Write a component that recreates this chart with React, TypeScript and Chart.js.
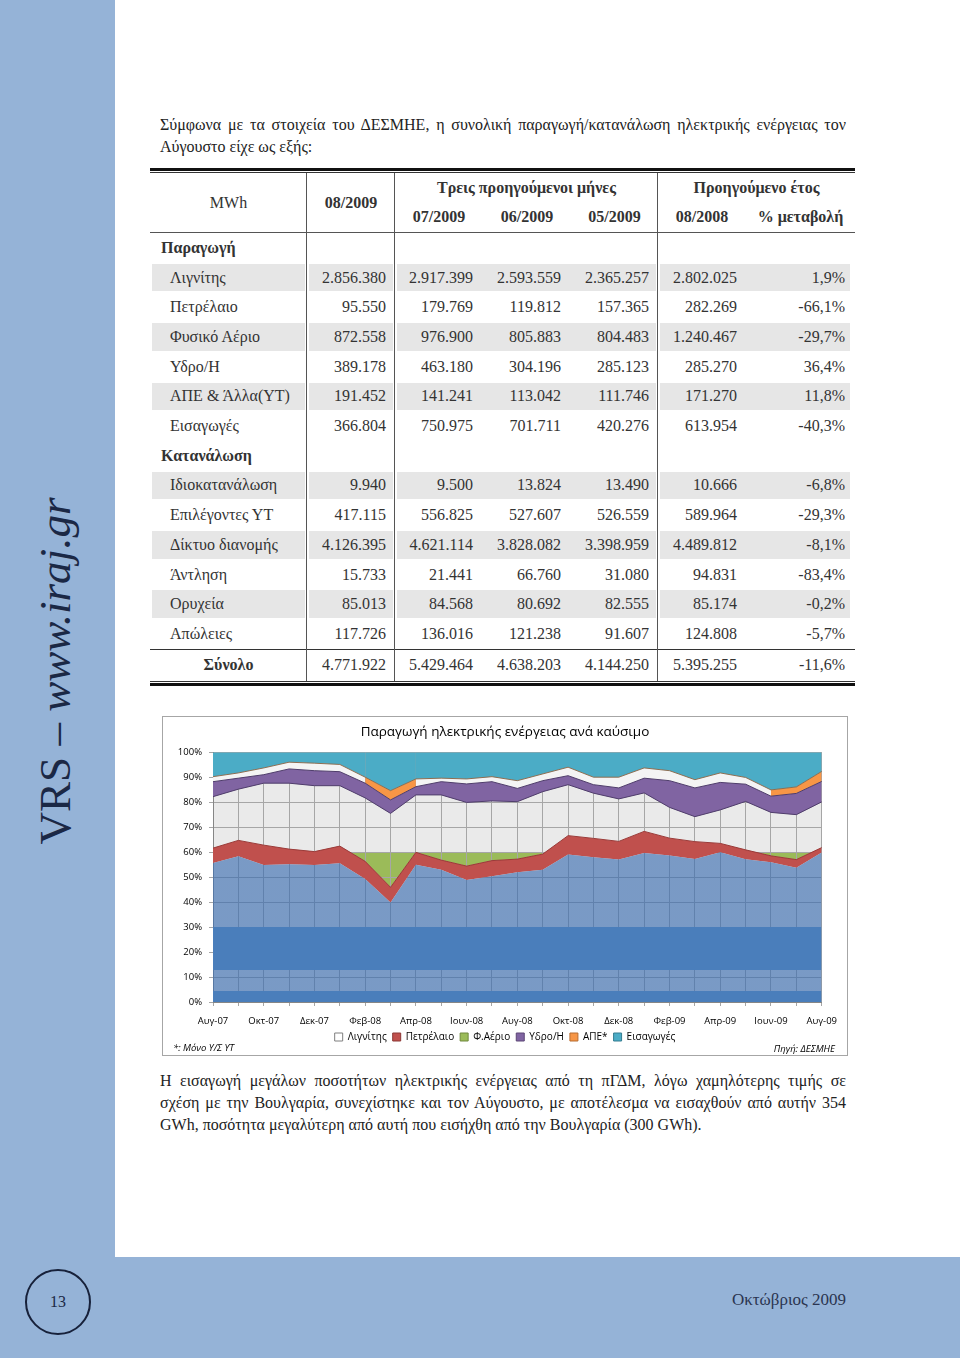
import React, { useEffect, useRef } from 'react';
import { Chart, registerables } from 'chart.js';

Chart.register(...registerables);

// ---------- Chart data (shares of production, %) ----------
const months = ['Αυγ-07', 'Σεπ-07', 'Οκτ-07', 'Νοε-07', 'Δεκ-07', 'Ιαν-08', 'Φεβ-08', 'Μαρ-08', 'Απρ-08', 'Μαϊ-08', 'Ιουν-08', 'Ιουλ-08', 'Αυγ-08', 'Σεπ-08', 'Οκτ-08', 'Νοε-08', 'Δεκ-08', 'Ιαν-09', 'Φεβ-09', 'Μαρ-09', 'Απρ-09', 'Μαϊ-09', 'Ιουν-09', 'Ιουλ-09', 'Αυγ-09'];
const lignite = [55.6, 58.3, 54.8, 55.1, 54.8, 55.5, 49.2, 39.8, 54.9, 52.9, 48.8, 50.3, 51.9, 52.9, 59.0, 57.9, 57.0, 59.6, 58.6, 57.2, 59.9, 57.1, 55.9, 53.7, 59.8];
const oil = [6.0, 6.4, 8.0, 6.1, 5.4, 6.9, 7.1, 6.1, 5.0, 3.9, 5.6, 6.3, 5.3, 6.3, 7.6, 7.6, 7.3, 8.7, 7.0, 7.0, 3.6, 3.8, 2.6, 3.3, 2.0];
const gas = [20.6, 20.5, 24.8, 26.4, 26.4, 24.2, 25.4, 29.6, 23.0, 26.1, 25.5, 23.9, 23.0, 25.0, 20.4, 18.1, 17.0, 15.4, 12.3, 10.0, 13.4, 19.4, 17.4, 18.0, 18.3];
const hydro = [6.0, 4.4, 3.4, 5.7, 6.0, 5.6, 5.9, 5.4, 3.3, 5.3, 7.4, 7.7, 5.3, 4.4, 3.6, 3.4, 4.4, 5.9, 10.7, 11.5, 11.0, 6.9, 6.5, 8.5, 8.2];
const renewables = [2.0, 2.1, 2.7, 2.7, 3.0, 2.9, 2.4, 3.7, 3.1, 1.4, 2.0, 2.0, 3.1, 2.7, 3.4, 3.0, 4.3, 4.1, 4.0, 3.3, 3.8, 2.7, 2.5, 2.6, 4.0];
const imports = [9.8, 8.3, 6.3, 4.0, 4.4, 4.9, 10.0, 15.4, 10.7, 10.4, 10.7, 9.8, 11.4, 8.7, 6.0, 10.0, 10.0, 6.3, 7.4, 11.0, 8.3, 10.1, 15.1, 13.9, 7.7];
const seriesNames = ['Λιγνίτης', 'Πετρέλαιο', 'Φ.Αέριο', 'Υδρο/Η', 'ΑΠΕ*', 'Εισαγωγές'];
const yTicks = [0, 10, 20, 30, 40, 50, 60, 70, 80, 90, 100];

// ---------- Table data ----------
const tableHeadMonths = ['07/2009', '06/2009', '05/2009'];
const prodLabels = ['Λιγνίτης', 'Πετρέλαιο', 'Φυσικό Αέριο', 'Υδρο/Η', 'ΑΠΕ & Άλλα(ΥΤ)', 'Εισαγωγές'];
const prodValues = [
  ['2.856.380', '2.917.399', '2.593.559', '2.365.257', '2.802.025', '1,9%'],
  ['95.550', '179.769', '119.812', '157.365', '282.269', '-66,1%'],
  ['872.558', '976.900', '805.883', '804.483', '1.240.467', '-29,7%'],
  ['389.178', '463.180', '304.196', '285.123', '285.270', '36,4%'],
  ['191.452', '141.241', '113.042', '111.746', '171.270', '11,8%'],
  ['366.804', '750.975', '701.711', '420.276', '613.954', '-40,3%'],
];
const consLabels = ['Ιδιοκατανάλωση', 'Επιλέγοντες ΥΤ', 'Δίκτυο διανομής', 'Άντληση', 'Ορυχεία', 'Απώλειες'];
const consValues = [
  ['9.940', '9.500', '13.824', '13.490', '10.666', '-6,8%'],
  ['417.115', '556.825', '527.607', '526.559', '589.964', '-29,3%'],
  ['4.126.395', '4.621.114', '3.828.082', '3.398.959', '4.489.812', '-8,1%'],
  ['15.733', '21.441', '66.760', '31.080', '94.831', '-83,4%'],
  ['85.013', '84.568', '80.692', '82.555', '85.174', '-0,2%'],
  ['117.726', '136.016', '121.238', '91.607', '124.808', '-5,7%'],
];
const totalValues = ['4.771.922', '5.429.464', '4.638.203', '4.144.250', '5.395.255', '-11,6%'];

// ---------- Styles ----------
const serif = '"Liberation Serif", "Times New Roman", serif';
const sans = '"Open Sans", "Noto Sans", sans-serif';
const pageBlue = '#95B3D7';
const blueDark = '#4A7EBB';
const blueLight = 'rgba(70,115,175,0.72)';
const gasUpper = '#EAEAEA';
const gasLower = '#9BBB59';
const gasSplit = 60;
const orange = '#F79646';
const orangeSegments = [6, 7, 22, 23];
const legendFill = ['#FFFFFF', '#C0504D', '#9BBB59', '#8064A2', '#F79646', '#4BACC6'];
const legendStroke = ['#7F7F7F', '#8C3836', '#71893F', '#5C4776', '#B66D31', '#357D91'];

const colEdges = [150, 307, 395, 483, 571, 658, 746, 855];
const valueEnds = [386, 473, 561, 649, 737, 845];
const textColor = '#333';

const ChartBox: React.FC = () => {
  const ref = useRef<HTMLCanvasElement>(null);
  useEffect(() => {
    const canvas = ref.current;
    if (!canvas) return;
    const bgPlugin = {
      id: 'plotBackground',
      beforeDraw(chart: any) {
        const a = chart.chartArea;
        const y = chart.scales.y;
        if (!a || !y) return;
        const split = y.getPixelForValue(gasSplit);
        const ctx = chart.ctx;
        ctx.save();
        ctx.fillStyle = gasUpper;
        ctx.fillRect(a.left, a.top, a.right - a.left, split - a.top);
        const pts = chart.getDatasetMeta(1).data;
        if (pts && pts.length) {
          ctx.beginPath();
          ctx.rect(a.left, split, a.right - a.left, a.bottom - split);
          ctx.clip();
          ctx.beginPath();
          ctx.moveTo(pts[0].x, split);
          pts.forEach((p: any) => ctx.lineTo(p.x, p.y));
          ctx.lineTo(pts[pts.length - 1].x, split);
          ctx.closePath();
          ctx.fillStyle = gasLower;
          ctx.fill();
        }
        ctx.restore();
      },
    };
    const ligniteFill = (c: any) => {
      const chart = c.chart;
      const y = chart.scales && chart.scales.y;
      if (!chart.chartArea || !y) return blueDark;
      const y0 = y.getPixelForValue(0);
      const y1 = y.getPixelForValue(100);
      const g = chart.ctx.createLinearGradient(0, y0, 0, y1);
      const stops: [number, string][] = [
        [0, blueDark], [0.045, blueDark], [0.045, blueLight], [0.13, blueLight],
        [0.13, blueDark], [0.3, blueDark], [0.3, blueLight], [1, blueLight],
      ];
      stops.forEach(([o, col]) => g.addColorStop(o, col));
      return g;
    };
    const values = [lignite, oil, gas, hydro, renewables, imports];
    const datasets: any[] = [
      { label: seriesNames[0], data: values[0], fill: 'origin', backgroundColor: ligniteFill, borderColor: 'rgba(0,0,0,0)', borderWidth: 0 },
      { label: seriesNames[1], data: values[1], fill: '-1', backgroundColor: '#C0504D', borderColor: '#9A3B39', borderWidth: 1 },
      { label: seriesNames[2], data: values[2], fill: false, backgroundColor: '#9BBB59', borderColor: '#4F3D6B', borderWidth: 1 },
      { label: seriesNames[3], data: values[3], fill: '-1', backgroundColor: '#8064A2', borderColor: '#4F3D6B', borderWidth: 1 },
      {
        label: seriesNames[4], data: values[4], fill: '-1', backgroundColor: '#F4F4F4', borderColor: '#8C6E52', borderWidth: 1,
        segment: { backgroundColor: (s: any) => (orangeSegments.includes(s.p0DataIndex) ? orange : undefined) },
      },
      { label: seriesNames[5], data: values[5], fill: '-1', backgroundColor: '#4BACC6', borderColor: '#4BACC6', borderWidth: 0 },
    ];
    const chart = new Chart(canvas, {
      type: 'line',
      data: { labels: months, datasets },
      plugins: [bgPlugin],
      options: {
        animation: false,
        responsive: false,
        elements: { point: { radius: 0 }, line: { tension: 0 } },
        layout: { padding: { top: 0, right: 0, bottom: 3, left: 0 } },
        scales: {
          x: {
            stacked: true,
            grid: { color: '#A6A6A6', lineWidth: 1, tickLength: 4 },
            border: { color: '#868686' },
            ticks: {
              autoSkip: false, maxRotation: 0, minRotation: 0, padding: 10, color: '#000',
              font: { family: sans, size: 9.5 },
              callback: (_v: any, i: number) => (i % 2 === 0 ? months[i] : ''),
            },
            afterFit: (s: any) => { s.height = 24; },
          },
          y: {
            stacked: true, min: 0, max: 100,
            afterBuildTicks: (s: any) => { s.ticks = yTicks.map((v) => ({ value: v })); },
            grid: { color: '#A6A6A6', lineWidth: 1, tickLength: 4 },
            border: { color: '#868686' },
            ticks: { padding: 7, color: '#000', font: { family: sans, size: 9.5 }, callback: (v: any) => v + '%' },
            afterFit: (s: any) => { s.width = 50; },
          },
          yRightSpace: {
            position: 'right', min: 0, max: 100,
            grid: { display: false, drawTicks: false }, border: { display: false },
            ticks: { display: false },
            afterFit: (s: any) => { s.width = 24; },
          },
        },
        plugins: {
          tooltip: { enabled: false },
          title: {
            display: true, text: 'Παραγωγή ηλεκτρικής ενέργειας ανά καύσιμο', color: '#000',
            font: { family: sans, size: 13.5, weight: 'normal' }, padding: { top: 7, bottom: 12 },
          },
          legend: {
            position: 'bottom',
            labels: {
              boxWidth: 8, boxHeight: 8, padding: 6, color: '#000', font: { family: sans, size: 10 },
              generateLabels: (ch: any) => {
                const items = Chart.defaults.plugins.legend.labels.generateLabels(ch);
                return items.map((it: any, i: number) => ({ ...it, fillStyle: legendFill[i], strokeStyle: legendStroke[i], lineWidth: 1 }));
              },
            },
          },
        },
      } as any,
    });
    return () => chart.destroy();
  }, []);
  return (
    <div style={{ position: 'absolute', left: 162, top: 716, width: 686, height: 340, border: '1px solid #A6A6A6', boxSizing: 'border-box', background: '#fff' }}>
      <canvas ref={ref} width={684} height={338} style={{ display: 'block', width: 684, height: 338 }} />
      <div style={{ position: 'absolute', left: 10, top: 324, fontFamily: sans, fontSize: 9.5, fontStyle: 'italic', color: '#000' }}>*: Μόνο Υ/Σ ΥΤ</div>
      <div style={{ position: 'absolute', right: 12, top: 325, fontFamily: sans, fontSize: 9.5, fontStyle: 'italic', color: '#000' }}>Πηγή: ΔΕΣΜΗΕ</div>
    </div>
  );
};

const Txt: React.FC<{ x: number; y: number; w?: number; align?: 'left' | 'right' | 'center'; bold?: boolean; children: React.ReactNode }> = ({ x, y, w, align = 'left', bold, children }) => {
  const style: React.CSSProperties = {
    position: 'absolute', top: y - 11, height: 22, lineHeight: '22px', fontFamily: serif, fontSize: 16,
    fontWeight: bold ? 'bold' : 'normal', color: textColor, whiteSpace: 'nowrap',
  };
  if (align === 'right') { style.right = 960 - x; }
  else if (align === 'center') { style.left = x - (w || 200) / 2; style.width = w || 200; style.textAlign = 'center'; }
  else { style.left = x; }
  return <div style={style}>{children}</div>;
};

const DataTable: React.FC = () => {
  const rowTop = 233;
  const rowH = 29.7;
  const rows: { label: string; kind: 'section' | 'item'; values?: string[]; shaded?: boolean }[] = [];
  rows.push({ label: 'Παραγωγή', kind: 'section' });
  prodLabels.forEach((l, i) => rows.push({ label: l, kind: 'item', values: prodValues[i], shaded: i % 2 === 0 }));
  rows.push({ label: 'Κατανάλωση', kind: 'section' });
  consLabels.forEach((l, i) => rows.push({ label: l, kind: 'item', values: consValues[i], shaded: i % 2 === 0 }));
  const shadeGroups = [[colEdges[0] + 2, colEdges[1] - 2], [colEdges[1] + 2, colEdges[2] - 2], [colEdges[2] + 2, colEdges[5] - 2], [colEdges[5] + 2, colEdges[7] - 5]];
  const els: React.ReactNode[] = [];
  rows.forEach((r, i) => {
    const top = rowTop + i * rowH;
    const cy = top + rowH / 2;
    if (r.shaded) {
      shadeGroups.forEach(([a, b], k) => els.push(
        <div key={`s${i}-${k}`} style={{ position: 'absolute', left: a, top: top + 1, width: b - a, height: rowH - 2, background: '#E6E6E6' }} />,
      ));
    }
    els.push(<Txt key={`l${i}`} x={r.kind === 'section' ? 161 : 170} y={cy} bold={r.kind === 'section'}>{r.label}</Txt>);
    if (r.values) r.values.forEach((v, k) => els.push(<Txt key={`v${i}-${k}`} x={valueEnds[k]} y={cy} align="right">{v}</Txt>));
  });
  const totalY = 665;
  return (
    <div>
      {els}
      <div style={{ position: 'absolute', left: 150, top: 168, width: 705, height: 3, background: '#111' }} />
      <div style={{ position: 'absolute', left: 150, top: 172, width: 705, height: 1, background: '#333' }} />
      <div style={{ position: 'absolute', left: 150, top: 232, width: 705, height: 1, background: '#555' }} />
      <div style={{ position: 'absolute', left: 150, top: 649, width: 705, height: 1, background: '#333' }} />
      <div style={{ position: 'absolute', left: 150, top: 681, width: 705, height: 1, background: '#333' }} />
      <div style={{ position: 'absolute', left: 150, top: 683, width: 705, height: 3, background: '#111' }} />
      {[colEdges[1], colEdges[2], colEdges[5]].map((x) => (
        <div key={`v${x}`} style={{ position: 'absolute', left: x - 1, top: 173, width: 1, height: 508, background: '#555' }} />
      ))}
      <Txt x={(colEdges[0] + colEdges[1]) / 2} y={203} align="center">MWh</Txt>
      <Txt x={(colEdges[1] + colEdges[2]) / 2} y={203} align="center" bold>08/2009</Txt>
      <Txt x={(colEdges[2] + colEdges[5]) / 2} y={188} w={260} align="center" bold>Τρεις προηγούμενοι μήνες</Txt>
      <Txt x={(colEdges[5] + colEdges[7]) / 2} y={188} w={200} align="center" bold>Προηγούμενο έτος</Txt>
      {tableHeadMonths.map((m, k) => (
        <Txt key={m} x={(colEdges[2 + k] + colEdges[3 + k]) / 2} y={217} w={88} align="center" bold>{m}</Txt>
      ))}
      <Txt x={(colEdges[5] + colEdges[6]) / 2} y={217} w={88} align="center" bold>08/2008</Txt>
      <Txt x={(colEdges[6] + colEdges[7]) / 2} y={217} w={109} align="center" bold>% μεταβολή</Txt>
      <Txt x={(colEdges[0] + colEdges[1]) / 2} y={totalY} align="center" bold>Σύνολο</Txt>
      {totalValues.map((v, k) => <Txt key={`t${k}`} x={valueEnds[k]} y={totalY} align="right">{v}</Txt>)}
    </div>
  );
};

const JLine: React.FC<{ y: number; justify?: boolean; children: React.ReactNode }> = ({ y, justify, children }) => (
  <div style={{
    position: 'absolute', left: 160, top: y - 11, width: 686, height: 22, lineHeight: '22px', fontFamily: serif, fontSize: 16,
    color: '#222', whiteSpace: 'nowrap', textAlign: justify ? 'justify' : 'left', textAlignLast: justify ? 'justify' : 'left',
  } as React.CSSProperties}>{children}</div>
);

export default function App() {
  return (
    <div style={{ position: 'absolute', left: 0, top: 0, width: 960, height: 1358, background: '#fff', overflow: 'hidden' }}>
      <div style={{ position: 'absolute', left: 0, top: 0, width: 115, height: 1358, background: pageBlue }} />
      <div style={{ position: 'absolute', left: 0, top: 1257, width: 960, height: 101, background: pageBlue }} />
      <div style={{
        position: 'absolute', left: 55 - 200, top: 671 - 30, width: 400, height: 60, lineHeight: '60px', textAlign: 'center',
        transform: 'rotate(-90deg)', fontFamily: serif, fontSize: 45, color: '#1B2845', whiteSpace: 'nowrap',
      }}>
        VRS – <span style={{ fontStyle: 'italic' }}>www.iraj.gr</span>
      </div>
      <div style={{
        position: 'absolute', left: 58 - 33, top: 1302 - 33, width: 66, height: 66, borderRadius: '50%', border: '2px solid #17213A',
        boxSizing: 'border-box', display: 'flex', alignItems: 'center', justifyContent: 'center', fontFamily: serif, fontSize: 16, color: '#1B2845',
      }}>13</div>
      <div style={{ position: 'absolute', right: 960 - 846, top: 1290, fontFamily: serif, fontSize: 17, color: '#2B3550', whiteSpace: 'nowrap' }}>Οκτώβριος 2009</div>

      <JLine y={125} justify>Σύμφωνα με τα στοιχεία του ΔΕΣΜΗΕ, η συνολική παραγωγή/κατανάλωση ηλεκτρικής ενέργειας τον</JLine>
      <JLine y={147}>Αύγουστο είχε ως εξής:</JLine>

      <DataTable />
      <ChartBox />

      <JLine y={1081} justify>Η εισαγωγή μεγάλων ποσοτήτων ηλεκτρικής ενέργειας από τη πΓΔΜ, λόγω χαμηλότερης τιμής σε</JLine>
      <JLine y={1103} justify>σχέση με την Βουλγαρία, συνεχίστηκε και τον Αύγουστο, με αποτέλεσμα να εισαχθούν από αυτήν 354</JLine>
      <JLine y={1125}>GWh, ποσότητα μεγαλύτερη από αυτή που εισήχθη από την Βουλγαρία (300 GWh).</JLine>
    </div>
  );
}
